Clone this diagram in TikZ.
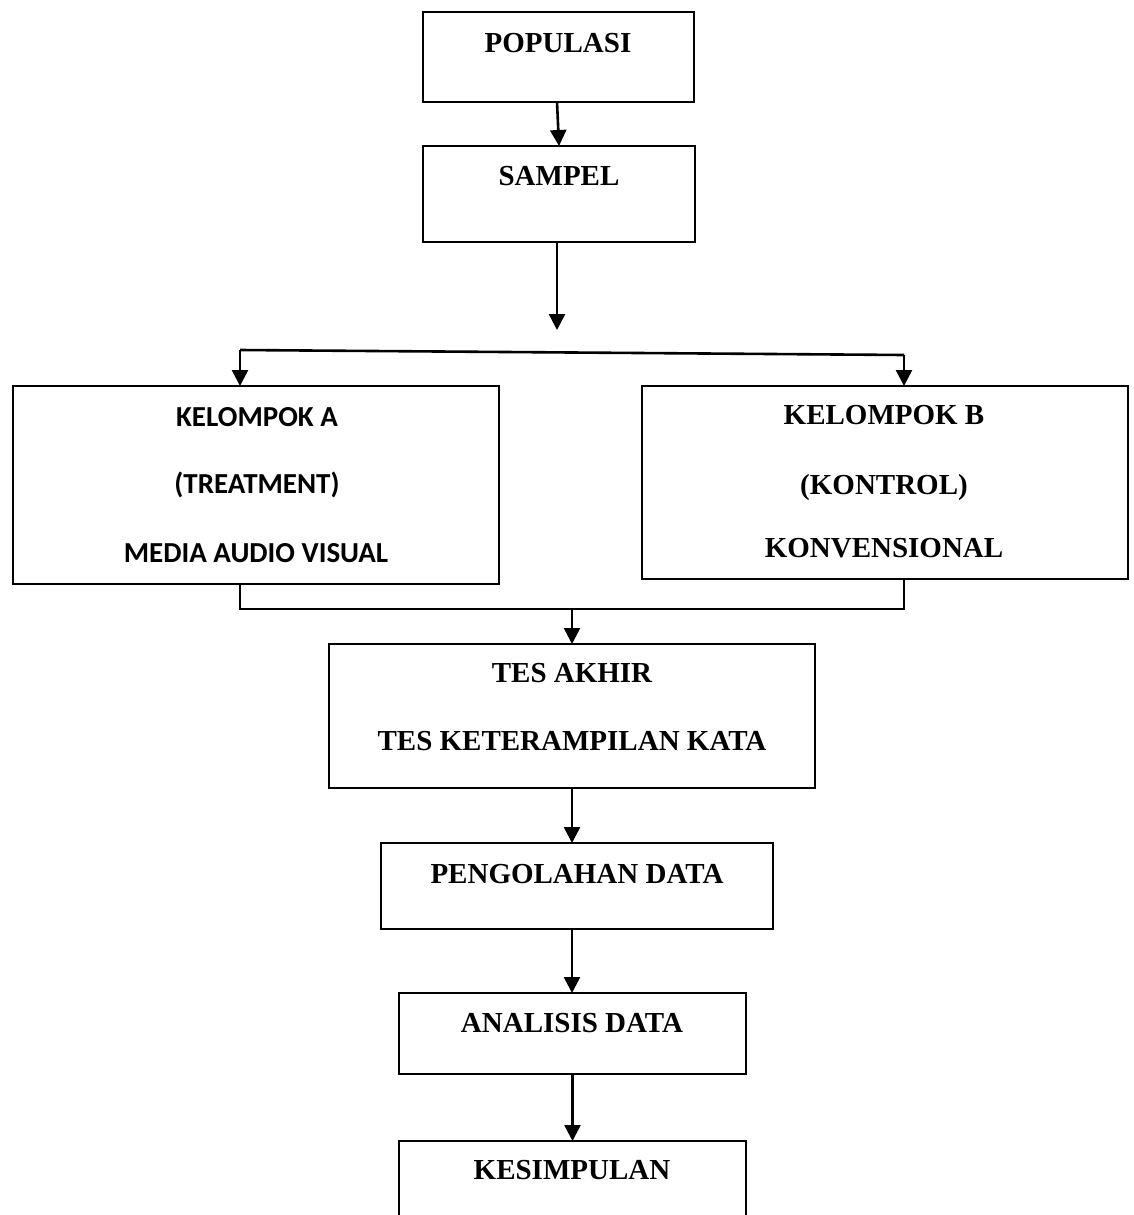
\documentclass[tikz,border=0pt]{standalone}
\usepackage{fontspec}
\setmainfont{Liberation Serif}
\newfontfamily\calibri{Carlito}
\usetikzlibrary{arrows.meta,positioning}

\begin{document}
\begin{tikzpicture}[x=0.5pt,y=-0.5pt,line width=1pt,
	>={Triangle[width=8pt,length=8pt]},
	kotak/.style={draw,rectangle,inner sep=0pt,outer sep=0pt},
	panah/.style={->,line width=1.3pt},
	judul/.style={font=\fontsize{14.5}{17}\selectfont\bfseries,inner sep=0pt,anchor=base}
	]

	\useasboundingbox (0,0) rectangle (1134,1215);
	\clip (0,0) rectangle (1134,1215);

	% kotak-kotak
	\node[kotak,minimum width=135.5pt,minimum height=45pt] (populasi) at (558.5,57) {};
	\node[kotak,minimum width=136pt,minimum height=48pt] (sampel) at (559,194) {};
	\node[kotak,minimum width=243pt,minimum height=99pt] (kelA) at (256,485) {};
	\node[kotak,minimum width=243pt,minimum height=96.5pt] (kelB) at (885,482.5) {};
	\node[kotak,minimum width=243pt,minimum height=72pt] (tes) at (572,716) {};
	\node[kotak,minimum width=196pt,minimum height=43pt] (olah) at (577,886) {};
	\node[kotak,minimum width=173.5pt,minimum height=40.5pt] (analisis) at (572.5,1033.5) {};
	\node[kotak,minimum width=173.5pt,minimum height=59.5pt] (simpul) at (572.5,1200.5) {};

	% teks
	\node[judul] (tPopulasi) at (558,52) {POPULASI};
	\node[judul] (tSampel) at (559,185) {SAMPEL};

	\node[judul,font=\fontsize{14.5}{17}\selectfont\calibri\bfseries] (tKelA1) at (257,426) {KELOMPOK A};
	\node[judul,font=\fontsize{14.5}{17}\selectfont\calibri\bfseries] (tKelA2) at (257,493) {(TREATMENT)};
	\node[judul,font=\fontsize{14.5}{17}\selectfont\calibri\bfseries] (tKelA3) at (256,562) {MEDIA AUDIO VISUAL};

	\node[judul] (tKelB1) at (884,424) {KELOMPOK B};
	\node[judul] (tKelB2) at (884,494) {(KONTROL)};
	\node[judul] (tKelB3) at (884,557) {KONVENSIONAL};

	\node[judul] (tTes1) at (572,682) {TES AKHIR};
	\node[judul] (tTes2) at (572,750) {TES KETERAMPILAN KATA};
	\node[judul] (tOlah) at (577,883) {PENGOLAHAN DATA};
	\node[judul] (tAnalisis) at (572,1032) {ANALISIS DATA};
	\node[judul] (tSimpul) at (572,1179) {KESIMPULAN};

	% titik cabang
	\coordinate (atas) at (557,102);
	\coordinate (pisah) at (557,330);
	\coordinate (cabA) at (240,350);
	\coordinate (cabB) at (904,355);
	\coordinate (gabung) at (572,609);

	% panah
	\draw[panah] (atas) -- (sampel.north);
	\draw[panah] (sampel.south -| pisah) -- (pisah);
	\draw[line width=1.3pt] (cabA) -- (cabB);
	\draw[panah] (cabA) -- (cabA |- kelA.north);
	\draw[panah] (cabB) -- (cabB |- kelB.north);
	\draw[line width=1.3pt] (cabA |- kelA.south) -- (cabA |- gabung) -- (cabB |- gabung) -- (cabB |- kelB.south);
	\draw[panah] (gabung) -- (gabung |- tes.north);
	\draw[panah] (tes.south) -- (tes.south |- olah.north);
	\draw[panah] (tes.south |- olah.south) -- (tes.south |- analisis.north);
	\draw[panah] (analisis.south) -- (simpul.north);

\end{tikzpicture}
\end{document}
